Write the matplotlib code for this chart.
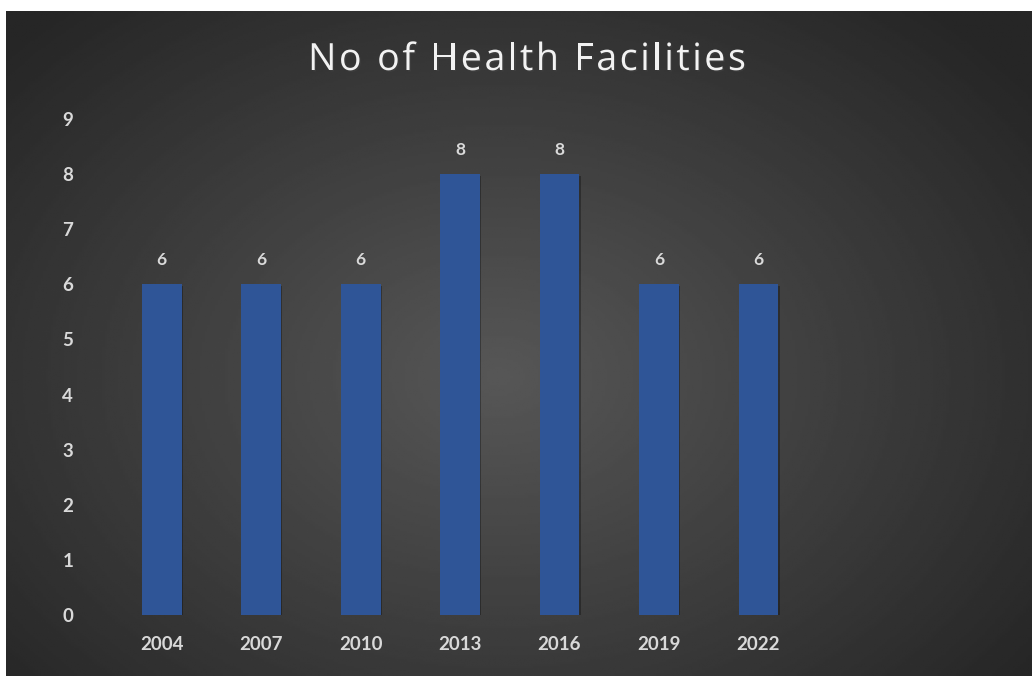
import numpy as np
import matplotlib.pyplot as plt
import matplotlib.patheffects as pe

# Données
years = ['2004', '2007', '2010', '2013', '2016', '2019', '2022']
facilities = [6, 6, 6, 8, 8, 6, 6]
y_ticks = [0, 1, 2, 3, 4, 5, 6, 7, 8, 9]
title = 'No of Health Facilities'

plt.rcParams['font.family'] = ['Lato', 'DejaVu Sans']
txt_color = '#d9d9d9'
bar_color = '#2f5597'

fig = plt.figure(figsize=(10.32, 6.76), dpi=100)
fig.patch.set_facecolor('white')

# Fond gris avec dégradé radial
bg = fig.add_axes([6 / 1032, 0, 1026 / 1032, 665 / 676])
gx, gy = np.meshgrid(np.linspace(0, 1, 400), np.linspace(0, 1, 300))
dist = np.sqrt(((gx - 0.48) / 0.75) ** 2 + ((gy - 0.55) / 0.85) ** 2)
shade = np.clip(0.34 - 0.22 * dist, 0.15, 0.34)
bg.imshow(shade, cmap='gray', vmin=0, vmax=1, aspect='auto', extent=[0, 1, 0, 1])
bg.axis('off')

# Graphique en barres
ax = fig.add_axes([112 / 1032, 61 / 676, 895 / 1032, 496 / 676])
ax.patch.set_alpha(0)
x = np.arange(len(years))
bars = ax.bar(x, facilities, width=0.4, color=bar_color, zorder=3)
for b in bars:
    b.set_path_effects([pe.SimplePatchShadow(offset=(1, -1), shadow_rgbFace='black', alpha=0.3),
                        pe.Normal()])

for xi, v in zip(x, facilities):
    ax.text(xi, v + 0.3, str(v), ha='center', va='bottom', color=txt_color,
            fontsize=12.5, fontweight='bold')

ax.set_xlim(-0.5, 8.5)
ax.set_ylim(0, 9)
ax.set_yticks(y_ticks)
ax.set_xticks(x)
ax.set_xticklabels(years)
ax.tick_params(axis='both', length=0, colors=txt_color, labelsize=13.5)
ax.tick_params(axis='y', pad=28)
ax.tick_params(axis='x', pad=15)
for lbl in ax.get_xticklabels() + ax.get_yticklabels():
    lbl.set_fontweight('bold')
for s in ax.spines.values():
    s.set_visible(False)

# Titre avec espacement entre les lettres
renderer = fig.canvas.get_renderer()
tprops = dict(color='#f2f2f2', fontsize=27, family=['Open Sans', 'DejaVu Sans'], va='center')
spacing = 2.6
widths = []
for ch in title:
    t = fig.text(0, 0, ch.replace(' ', '\u00a0') if ch != ' ' else 'n', **tprops)
    w = t.get_window_extent(renderer).width
    if ch == ' ':
        w *= 0.45
    widths.append(w)
    t.remove()
total = sum(widths) + spacing * (len(title) - 1)
xpos = 527 - total / 2
for ch, w in zip(title, widths):
    if ch != ' ':
        fig.text(xpos / 1032, 1 - 60 / 676, ch, ha='left', **tprops,
                 path_effects=[pe.withSimplePatchShadow(offset=(1, -1), alpha=0.4)])
    xpos += w + spacing

fig.savefig('out.png', dpi=100)
